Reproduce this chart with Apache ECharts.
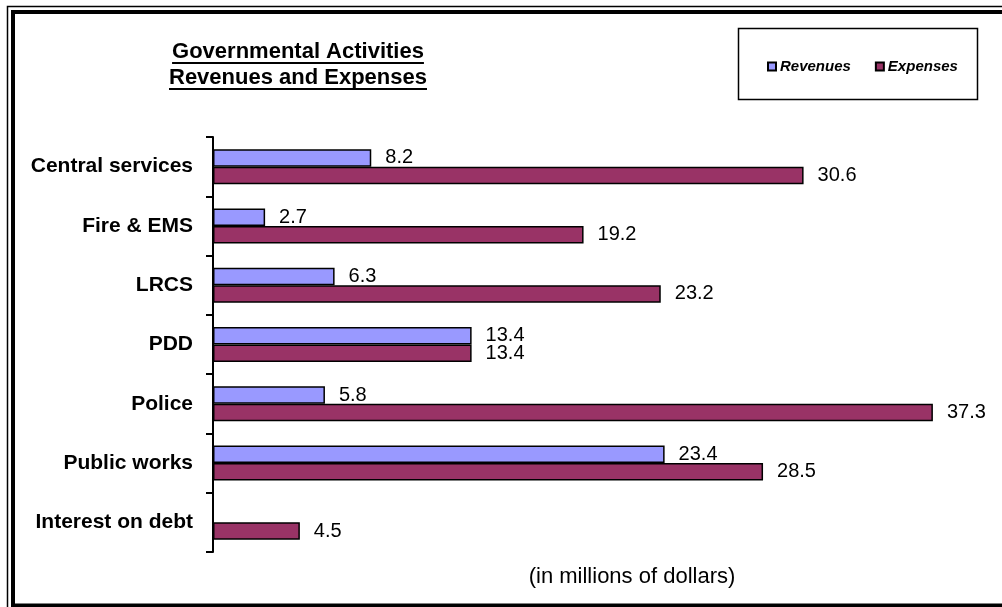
<!DOCTYPE html>
<html>
<head>
<meta charset="utf-8">
<script src="https://cdn.jsdelivr.net/npm/echarts@6/dist/echarts.min.js"></script>
<style>
  html, body { margin: 0; padding: 0; background: #fff; }
  #chart { width: 1002px; height: 607px; }
</style>
</head>
<body>
<div id="chart"></div>
<script>
// Governmental activities, in millions of dollars
const categories = ['Central services', 'Fire & EMS', 'LRCS', 'PDD', 'Police', 'Public works', 'Interest on debt'];
const revenues = [8.2, 2.7, 6.3, 13.4, 5.8, 23.4, null];
const expenses = [30.6, 19.2, 23.2, 13.4, 37.3, 28.5, 4.5];
const titleLines = ['Governmental Activities', 'Revenues and Expenses'];
const unitNote = '(in millions of dollars)';

const FONT = '"Liberation Sans", Arial, sans-serif';

const chart = echarts.init(document.getElementById('chart'), null, { renderer: 'canvas' });

// measure text width so the title underlines fit their lines
const ctx = document.createElement('canvas').getContext('2d');
function textWidth(str, font) { ctx.font = font; return ctx.measureText(str).width; }

const titleFont = 'bold 22px ' + FONT;
const titleCx = 298;
const titleYs = [52, 78];
const graphics = [];

// double frame around the chart
graphics.push({
  type: 'rect', silent: true,
  shape: { x: 7.5, y: 6.5, width: 1010, height: 620 },
  style: { fill: 'none', stroke: '#000', lineWidth: 1.5 }
});
graphics.push({
  type: 'rect', silent: true,
  shape: { x: 13, y: 12, width: 1000, height: 593.5 },
  style: { fill: 'none', stroke: '#000', lineWidth: 4 }
});

// legend box
graphics.push({
  type: 'rect', silent: true,
  shape: { x: 738.5, y: 28.5, width: 239, height: 71 },
  style: { fill: 'none', stroke: '#000', lineWidth: 1.5 }
});

// underlined two-line heading
titleLines.forEach(function (line, i) {
  const w = textWidth(line, titleFont);
  graphics.push({
    type: 'text', silent: true,
    style: {
      text: line, x: titleCx, y: titleYs[i],
      align: 'center', verticalAlign: 'middle',
      font: titleFont, fill: '#000'
    }
  });
  graphics.push({
    type: 'line', silent: true,
    shape: { x1: titleCx - w / 2, y1: titleYs[i] + 11, x2: titleCx + w / 2, y2: titleYs[i] + 11 },
    style: { stroke: '#000', lineWidth: 2 }
  });
});

// unit note under the bars
graphics.push({
  type: 'text', silent: true,
  style: {
    text: unitNote, x: 632, y: 577,
    align: 'center', verticalAlign: 'middle',
    font: '22px ' + FONT, fill: '#000'
  }
});

const valueLabel = {
  show: true,
  position: 'right',
  distance: 14,
  color: '#000',
  fontFamily: FONT,
  fontSize: 20
};

chart.setOption({
  animation: false,
  backgroundColor: '#fff',
  textStyle: { fontFamily: FONT },
  legend: {
    left: 767,
    top: 59,
    itemWidth: 8,
    itemHeight: 8,
    itemGap: 24,
    icon: 'rect',
    padding: 0,
    textStyle: {
      fontFamily: FONT, fontSize: 15, fontStyle: 'italic', fontWeight: 'bold',
      color: '#000', padding: [0, 0, 0, -1]
    },
    data: ['Revenues', 'Expenses']
  },
  grid: { left: 213, right: 17, top: 137, bottom: 55, containLabel: false },
  xAxis: {
    type: 'value',
    min: 0,
    max: 40,
    show: false
  },
  yAxis: {
    type: 'category',
    inverse: true,
    data: categories,
    axisLine: { show: true, lineStyle: { color: '#000', width: 2 } },
    axisTick: { show: true, length: 7, lineStyle: { color: '#000', width: 2 } },
    axisLabel: {
      margin: 20, color: '#000', fontFamily: FONT, fontSize: 21, fontWeight: 'bold'
    },
    splitLine: { show: false }
  },
  series: [
    {
      name: 'Revenues',
      type: 'bar',
      data: revenues,
      barGap: '0%',
      barCategoryGap: '41%',
      itemStyle: { color: '#9999FF', borderColor: '#000', borderWidth: 1.5 },
      label: valueLabel
    },
    {
      name: 'Expenses',
      type: 'bar',
      data: expenses,
      barGap: '0%',
      barCategoryGap: '41%',
      itemStyle: { color: '#993366', borderColor: '#000', borderWidth: 1.5 },
      label: valueLabel
    }
  ],
  graphic: graphics
});
</script>
</body>
</html>
